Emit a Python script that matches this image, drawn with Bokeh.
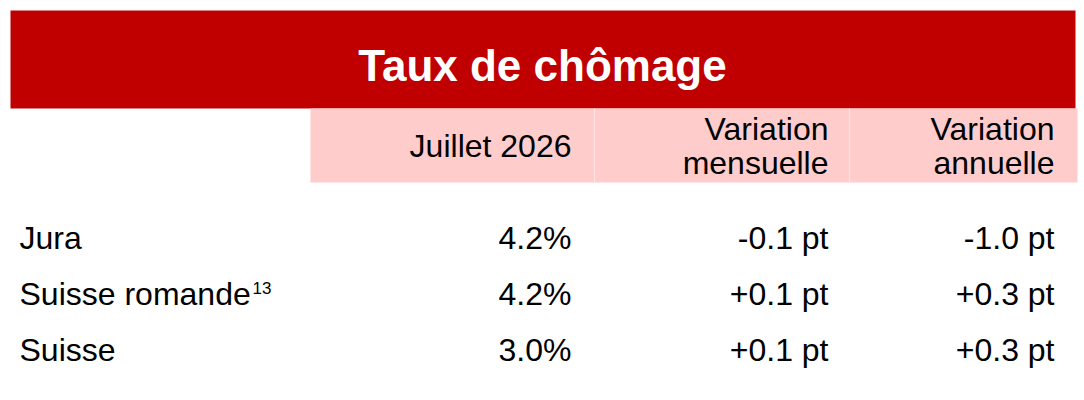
from bokeh.plotting import figure
from bokeh.models import Range1d, ColumnDataSource
from bokeh.core.properties import value
from bokeh.embed import file_html
from bokeh.resources import INLINE

# ---- data ----
title = "Taux de chômage"
col_headers = ["Juillet 2026", "Variation\nmensuelle", "Variation\nannuelle"]
regions = ["Jura", "Suisse romande", "Suisse"]
footnotes = ["", "13", ""]
rate = [4.2, 4.2, 3.0]          # %
var_month = [-0.1, 0.1, 0.1]    # pt
var_year = [-1.0, 0.3, 0.3]     # pt

# ---- layout (pixel coordinates of the picture) ----
W, H = 1084, 400
FONT = "Liberation Sans"
RED = "#C00000"
PINK = "#FFCCCC"
K = 0.37  # baseline correction factor (fraction of font size)


def base(y, size):
    return y - K * size


p = figure(width=W, height=H, output_backend="svg", toolbar_location=None,
           x_range=Range1d(0, W), y_range=Range1d(H, 0),
           min_border=0, background_fill_color="white",
           border_fill_color="white", outline_line_color=None)
p.axis.visible = False
p.grid.visible = False

# title banner
p.quad(left=[10], right=[1075], top=[10], bottom=[108],
       fill_color=RED, line_color=None)
p.text(x=[542], y=[base(81, 44)], text=[title], text_align="center",
       text_baseline="alphabetic", text_color="white",
       text_font=value(FONT), text_font_size="44px", text_font_style="bold")

# header band
p.quad(left=[310], right=[1077], top=[108], bottom=[182],
       fill_color=PINK, line_color=None)
p.segment(x0=[594, 849], y0=[108, 108], x1=[594, 849], y1=[182, 182],
          line_color="#FFE2E2", line_width=1.2)

col_right = [571, 828, 1054]
hx, hy, ht = [], [], []
for cx, lab in zip(col_right, col_headers):
    lines = lab.split("\n")
    ys = [157] if len(lines) == 1 else [140, 174]
    for yy, ln in zip(ys, lines):
        hx.append(cx); hy.append(base(yy, 32)); ht.append(ln)
p.text(x=hx, y=hy, text=ht, text_align="right", text_baseline="alphabetic",
       text_color="black", text_font=value(FONT), text_font_size="32px")

# body rows
row_base = [249, 305, 361]
src_lab = ColumnDataSource(dict(x=[19] * len(regions),
                                y=[base(b, 32) for b in row_base], t=regions))
p.text(x="x", y="y", text="t", source=src_lab, text_align="left",
       text_baseline="alphabetic", text_color="black",
       text_font=value(FONT), text_font_size="32px")

# superscripts
sx, sy, st = [], [], []
for r, yy, fn in zip(regions, row_base, footnotes):
    if fn:
        sx.append(252); sy.append(base(yy - 11, 17)); st.append(fn)
p.text(x=sx, y=sy, text=st, text_align="left", text_baseline="alphabetic",
       text_color="black", text_font=value(FONT), text_font_size="17px")

cells_x, cells_y, cells_t = [], [], []
for i, yy in enumerate(row_base):
    vals = [f"{rate[i]:.1f}%", f"{var_month[i]:+.1f} pt", f"{var_year[i]:+.1f} pt"]
    for cx, v in zip(col_right, vals):
        cells_x.append(cx); cells_y.append(base(yy, 32)); cells_t.append(v)
p.text(x=cells_x, y=cells_y, text=cells_t, text_align="right",
       text_baseline="alphabetic", text_color="black",
       text_font=value(FONT), text_font_size="32px")

open("out.html", "w").write(file_html(p, INLINE))
